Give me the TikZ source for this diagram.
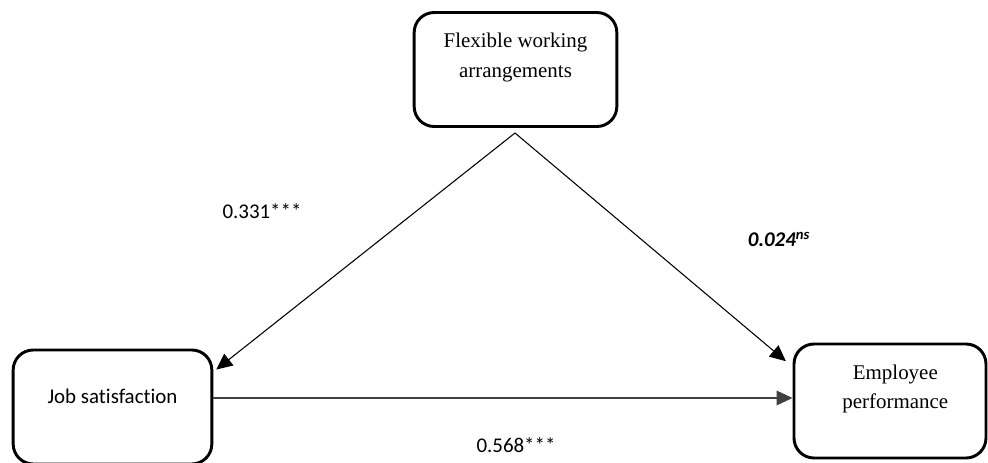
\documentclass[tikz,border=0pt]{standalone}
\usepackage{fontspec}
\setmainfont{Liberation Serif}
\newfontfamily\calfont[Ligatures=NoCommon]{Carlito}
\usetikzlibrary{arrows.meta}
\definecolor{linegray}{HTML}{404040}
\tikzset{
    box/.style={draw, line width=2.2pt, rounded corners=15pt, minimum height=85.5pt, inner sep=0pt},
    boxtext/.style={align=center, font=\fontsize{15.7}{22}\selectfont, yshift=9pt},
    coef/.style={font=\calfont\fontsize{15.7}{19}\selectfont, inner sep=0pt},
    arr/.style={-{Triangle[length=12pt,width=11pt]}, line width=0.8pt}
}
\begin{document}
\begin{tikzpicture}[x=0.75pt, y=-0.75pt]
    \useasboundingbox (0,0) rectangle (988,463);

    \node (fwa) at (515.5,69.5) [box, minimum width=152pt,
        label={[boxtext]center:Flexible working\\arrangements}]{};
    \node (jobs) at (112.5,407) [box, minimum width=149pt,
        label={[boxtext, font=\calfont\fontsize{15.7}{22}\selectfont, yshift=-1pt]center:Job satisfaction}]{};
    \node (perf) at (890,401) [box, minimum width=144pt,
        label={[boxtext, xshift=4pt]center:Employee\\performance}]{};

    \node (c1) at (262,211) [coef]{0.331***};
    \node (c2) at (779,239) [coef]{\bfseries\itshape 0.024\textsuperscript{ns}};
    \node (c3) at (516,445) [coef]{0.568***};

    \coordinate (apex) at (515,133);
    \coordinate (hstart) at ([yshift=6.75pt]jobs.east);

     \draw[arr] (apex) -- ([xshift=2.25pt,yshift=-15.75pt]jobs.north east);
     \draw[arr] (apex) -- ([xshift=-5pt,yshift=-14pt]perf.north west);
     \draw[arr, linegray, line width=1pt] (hstart) -- (hstart -| perf.west);

  \end{tikzpicture}
\end{document}
